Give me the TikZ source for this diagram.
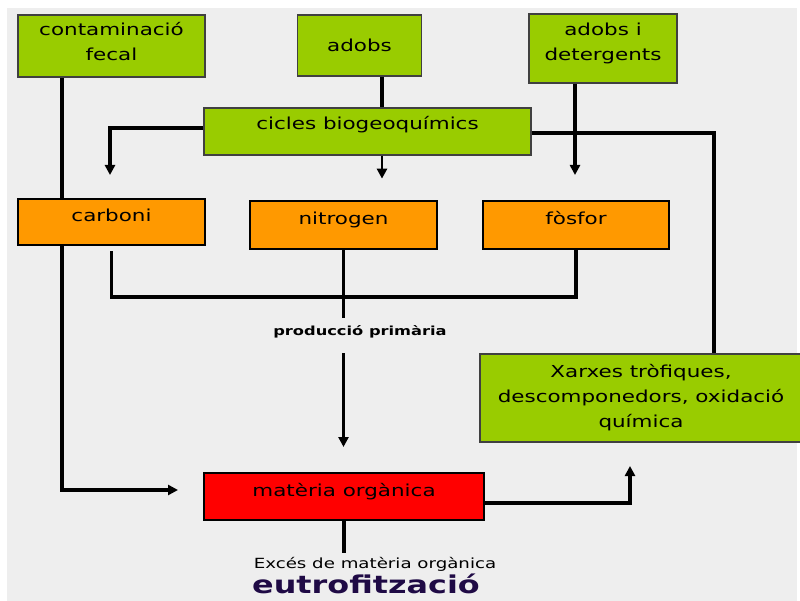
\documentclass[tikz,border=0pt]{standalone}
\usepackage{fontspec}
\setmainfont[FakeStretch=1.3]{DejaVu Sans}
\usetikzlibrary{arrows.meta}
\definecolor{fonsgris}{HTML}{EEEEEE}
\definecolor{verd}{HTML}{99CC00}
\definecolor{taronja}{HTML}{FF9900}
\definecolor{vermell}{HTML}{FF0000}
\definecolor{lila}{HTML}{1F0A45}

\begin{document}
\begin{tikzpicture}[x=1pt, y=-1pt,
    caixa/.style={draw, align=center, inner sep=0pt, font=\fontsize{16.5}{25}\selectfont},
    verda/.style={caixa, fill=verd, draw=black!75, line width=1.3pt},
    taronja/.style={caixa, fill=taronja, line width=2.4pt, text depth=14pt},
    fil/.style={line width=3.5pt},
    fletxa/.style={-{Triangle[length=10pt,width=10pt]}}]
        \useasboundingbox (0,0) rectangle (800,601);
        \fill[fonsgris] (7,8) rectangle (797,601);
        % fonts d'entrada
        \node[verda, minimum width=187pt, minimum height=62pt, text depth=9pt] (fecal) at (111.5,46) {contaminació\\fecal};
        \node[verda, minimum width=124pt, minimum height=61pt] (adobs) at (359.5,45.5) {adobs};
        \node[verda, minimum width=148pt, minimum height=69pt, text depth=13pt] (adet) at (603,48.5) {adobs i\\detergents};
        \node[verda, minimum width=327pt, minimum height=47pt, text depth=18pt] (cicles) at (367.5,131.5) {cicles biogeoquímics};
        % elements
        \node[taronja, minimum width=187pt, minimum height=46pt] (carboni) at (111.5,222) {carboni};
        \node[taronja, minimum width=187pt, minimum height=48pt] (nitrogen) at (343.5,225) {nitrogen};
        \node[taronja, minimum width=186pt, minimum height=48pt] (fosfor) at (576,225) {fòsfor};
        \node[verda, minimum width=322pt, minimum height=88pt] (xarxes) at (641,398) {Xarxes tròfiques,\\descomponedors, oxidació\\química};
        \node[caixa, fill=vermell, line width=2pt, minimum width=280pt, minimum height=47pt, text depth=14pt] (materia) at (344,496.5) {matèria orgànica};
        \node[font=\bfseries\fontsize{12.5}{14}\selectfont] (prod) at (360,332) {producció primària};
        \node[font=\fontsize{14}{15}\selectfont] (exces) at (375,564) {Excés de matèria orgànica};
        \node[font=\bfseries\fontsize{24.5}{28}\selectfont, text=lila] (eutro) at (366,584) {eutrofització};
        % punts de gir
        \coordinate (xl) at (62,0);
        \coordinate (xm) at (382,0);
        \coordinate (xr) at (714,0);
        \coordinate (yb) at (0,297);
        \coordinate (tipc) at (110,175);
        \coordinate (tipd) at (575,175);
        \coordinate (tipm) at (178,490);
        \coordinate (tipx) at (630,466);
        % connexions
        \draw[fil] (fecal.south -| xl) -- (carboni.north -| xl);
        \draw[fil, fletxa] (carboni.south -| xl) |- (tipm);
        \draw[fil] (adobs.south -| xm) -- (cicles.north -| xm);
        \draw[line width=2.5pt, fletxa] (cicles.south -| xm) -- ++(0,23);
        \draw[fil, fletxa] (adet.south -| tipd) -- (tipd);
        \draw[fil, fletxa] ([yshift=3.5pt]cicles.west) -| (tipc);
        \draw[fil] ([yshift=-1.5pt]cicles.east) -| (xarxes.north -| xr);
        \draw[fil] ([yshift=-5pt]carboni.south) -- (carboni.south |- yb) -| (fosfor.south);
        \draw[fil] (nitrogen.south) -- (nitrogen.south |- 0,318);
        \draw[line width=2.5pt, fletxa] (nitrogen.south |- 0,353) -- ([yshift=25pt]materia.north -| nitrogen.south);
        \draw[fil, fletxa] ([yshift=-6.5pt]materia.east) -| (tipx);
        \draw[fil] (materia.south) -- ++(0,32);
\end{tikzpicture}
\end{document}
